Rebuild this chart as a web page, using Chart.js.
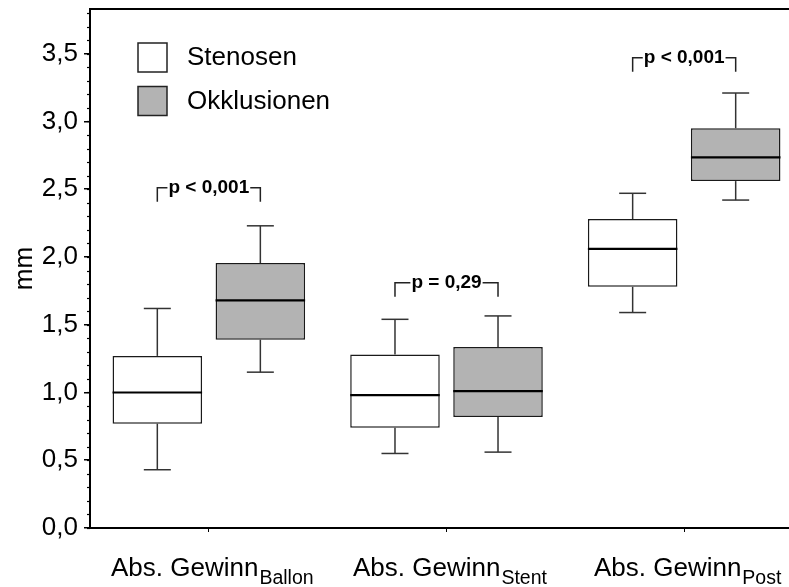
<!DOCTYPE html>
<html><head><meta charset="utf-8">
<script src="https://cdn.jsdelivr.net/npm/chart.js@4.4.0/dist/chart.umd.min.js"></script>
<style>
html,body{margin:0;padding:0;background:#fff;overflow:hidden;}
#wrap{width:789px;height:587px;overflow:hidden;position:relative;}
canvas{display:block;}
</style>
</head><body>
<div id="wrap"><canvas id="c" width="810" height="587"></canvas></div>
<script>
// ---- data ----
const categories = ["Ballon", "Stent", "Post"];
const labelMain = "Abs. Gewinn";
const seriesNames = ["Stenosen", "Okklusionen"];

const stenosenMin    = [0.43, 0.55, 1.59];
const stenosenQ1     = [0.77, 0.74, 1.78];
const stenosenMedian = [1.00, 0.98, 2.06];
const stenosenQ3     = [1.27, 1.28, 2.28];
const stenosenMax    = [1.62, 1.54, 2.47];

const okklMin    = [1.15, 0.56, 2.42];
const okklQ1     = [1.39, 0.82, 2.56];
const okklMedian = [1.68, 1.01, 2.735];
const okklQ3     = [1.955, 1.335, 2.95];
const okklMax    = [2.23, 1.565, 3.21];

const pLabels   = ["p < 0,001", "p = 0,29", "p < 0,001"];
const pBracketY = [2.51, 1.81, 3.47];

const yMin = 0, yMax = 3.83, yMajorStep = 0.5, yMinorStep = 0.1;

// ---- styling ----
const FONT = "'Liberation Sans', Arial, Helvetica, sans-serif";
const fills = ["#ffffff", "#b3b3b3"];
const stats = [
  {min: stenosenMin, q1: stenosenQ1, med: stenosenMedian, q3: stenosenQ3, max: stenosenMax},
  {min: okklMin, q1: okklQ1, med: okklMedian, q3: okklQ3, max: okklMax}
];

function line(ctx, x1, y1, x2, y2) {
  ctx.beginPath(); ctx.moveTo(x1, y1); ctx.lineTo(x2, y2); ctx.stroke();
}

const extras = {
  id: 'extras',
  afterDatasetsDraw(chart) {
    const ctx = chart.ctx, ys = chart.scales.y;
    ctx.save();
    stats.forEach((s, di) => {
      const meta = chart.getDatasetMeta(di);
      meta.data.forEach((bar, j) => {
        const x = bar.x, w = bar.width;
        const pMin = ys.getPixelForValue(s.min[j]);
        const pMax = ys.getPixelForValue(s.max[j]);
        const pQ1 = ys.getPixelForValue(s.q1[j]);
        const pQ3 = ys.getPixelForValue(s.q3[j]);
        const pMed = ys.getPixelForValue(s.med[j]);
        ctx.strokeStyle = '#333'; ctx.lineWidth = 1.5;
        line(ctx, x, pQ3, x, pMax);
        line(ctx, x - 13.5, pMax, x + 13.5, pMax);
        line(ctx, x, pQ1, x, pMin);
        line(ctx, x - 13.5, pMin, x + 13.5, pMin);
        ctx.strokeStyle = '#000'; ctx.lineWidth = 2.2;
        line(ctx, x - w / 2, pMed, x + w / 2, pMed);
      });
    });
    // p-value brackets
    const m0 = chart.getDatasetMeta(0), m1 = chart.getDatasetMeta(1);
    ctx.font = "bold 19px " + FONT;
    ctx.fillStyle = '#000';
    ctx.textAlign = 'center'; ctx.textBaseline = 'alphabetic';
    pLabels.forEach((txt, j) => {
      const x1 = m0.data[j].x, x2 = m1.data[j].x;
      const yT = ys.getPixelForValue(pBracketY[j]);
      const cx = (x1 + x2) / 2;
      const tw = ctx.measureText(txt).width;
      ctx.strokeStyle = '#222'; ctx.lineWidth = 1.5;
      ctx.beginPath();
      ctx.moveTo(x1, yT + 14); ctx.lineTo(x1, yT); ctx.lineTo(cx - tw / 2 - 1, yT);
      ctx.stroke();
      ctx.beginPath();
      ctx.moveTo(cx + tw / 2 + 1, yT); ctx.lineTo(x2, yT); ctx.lineTo(x2, yT + 14);
      ctx.stroke();
      ctx.fillText(txt, cx, yT + 5);
    });
    ctx.restore();
  },
  afterDraw(chart) {
    const ctx = chart.ctx, ca = chart.chartArea, ys = chart.scales.y, xs = chart.scales.x;
    ctx.save();
    // frame top & right
    ctx.strokeStyle = '#000'; ctx.lineWidth = 2;
    line(ctx, ca.left - 1, ca.top, ca.right, ca.top);
    line(ctx, ca.right, ca.top, ca.right, ca.bottom);
    // minor y ticks
    ctx.lineWidth = 1.2; ctx.strokeStyle = '#000';
    for (let v = yMin; v <= yMax + 1e-9; v += yMinorStep) {
      const py = Math.round(ys.getPixelForValue(v)) + 0.5;
      line(ctx, ca.left - 3, py, ca.left, py);
    }
    // x labels with subscripts
    ctx.fillStyle = '#000'; ctx.textBaseline = 'alphabetic'; ctx.textAlign = 'left';
    const mainFont = "26px " + FONT, subFont = "19.5px " + FONT;
    categories.forEach((c, j) => {
      const x = xs.getPixelForTick(j);
      ctx.font = mainFont; const w1 = ctx.measureText(labelMain).width;
      ctx.font = subFont; const w2 = ctx.measureText(c).width;
      const x0 = x - (w1 + w2) / 2 + 3;
      ctx.font = mainFont; ctx.fillText(labelMain, x0, 576);
      ctx.font = subFont; ctx.fillText(c, x0 + w1 + 1, 584);
    });
    // legend
    const lx = ca.left + 48, ly = ca.top + 34;
    chart.data.datasets.forEach((ds, i) => {
      const yy = ly + i * 43.5;
      ctx.fillStyle = ds.backgroundColor;
      ctx.fillRect(lx, yy, 29, 29);
      ctx.strokeStyle = '#222'; ctx.lineWidth = 1.5;
      ctx.strokeRect(lx, yy, 29, 29);
      ctx.fillStyle = '#000'; ctx.font = "26px " + FONT;
      ctx.textBaseline = 'middle';
      ctx.fillText(ds.label, lx + 49, yy + 15);
    });
    ctx.restore();
  }
};

new Chart(document.getElementById('c'), {
  type: 'bar',
  data: {
    labels: categories,
    datasets: [
      {label: seriesNames[0], data: stenosenQ1.map((q, i) => [q, stenosenQ3[i]]),
       backgroundColor: fills[0], borderColor: '#1a1a1a', borderWidth: 1.5, borderSkipped: false},
      {label: seriesNames[1], data: okklQ1.map((q, i) => [q, okklQ3[i]]),
       backgroundColor: fills[1], borderColor: '#1a1a1a', borderWidth: 1.5, borderSkipped: false}
    ]
  },
  options: {
    responsive: false, animation: false, devicePixelRatio: 1,
    categoryPercentage: 0.867, barPercentage: 0.869,
    layout: {padding: {top: 9, right: 7, bottom: 0, left: 0}},
    plugins: {legend: {display: false}, tooltip: {enabled: false}},
    scales: {
      x: {
        grid: {display: true, drawOnChartArea: false, offset: false, tickLength: 4, color: '#000', lineWidth: 1},
        border: {display: true, color: '#000', width: 2},
        ticks: {display: false},
        afterFit(s) { s.height = 59; s.paddingLeft = 0; s.paddingRight = 0; }
      },
      y: {
        min: yMin, max: yMax,
        grid: {display: true, drawOnChartArea: false, tickLength: 6, color: '#000', lineWidth: 1.5},
        border: {display: true, color: '#000', width: 2},
        ticks: {
          stepSize: yMajorStep, includeBounds: false, padding: 6, color: '#000',
          font: {family: FONT, size: 26},
          callback: v => v.toFixed(1).replace('.', ',')
        },
        title: {display: true, text: 'mm', color: '#000', font: {family: FONT, size: 26}, padding: {top: 9, bottom: 0}},
        afterFit(s) { s.width = 90; s.paddingTop = 0; s.paddingBottom = 0; }
      }
    }
  },
  plugins: [extras]
});
</script>
</body></html>
